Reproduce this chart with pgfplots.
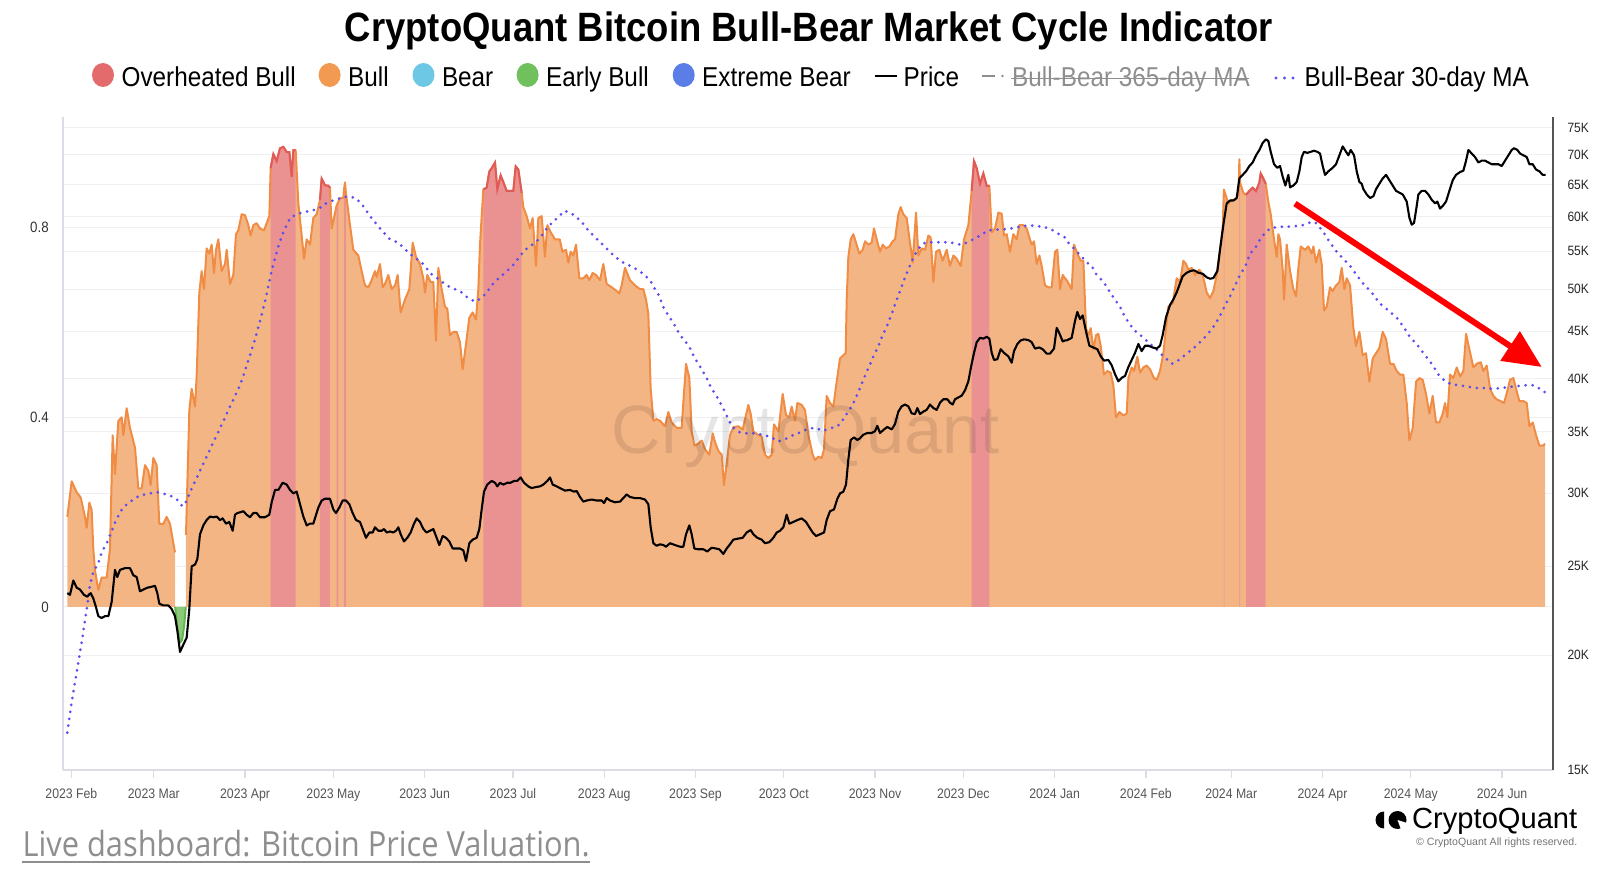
\documentclass[border=0pt]{standalone}
\usepackage{fontspec}
\setmainfont{Liberation Sans}[FakeStretch=0.89]
\newfontfamily\opensans{Open Sans}[FakeStretch=0.89]
\newfontfamily\plainsans{Liberation Sans}
\usepackage{pgfplots}
\pgfplotsset{compat=1.18}
\usepackage{pgfplotstable}
\usetikzlibrary{arrows.meta}

\definecolor{orangefill}{HTML}{F4B585}
\definecolor{orangeline}{HTML}{F08C44}
\definecolor{redfill}{HTML}{EA9292}
\definecolor{redline}{HTML}{E05A5A}
\definecolor{greenfill}{HTML}{8CC97A}
\definecolor{greenline}{HTML}{62B84E}
\definecolor{mablue}{HTML}{5B4DF2}
\definecolor{axisgray}{HTML}{DCDCE6}
\definecolor{gridgray}{HTML}{F0F0F3}
\definecolor{rightaxis}{HTML}{555555}
\definecolor{ticktext}{HTML}{555555}
\definecolor{lgred}{HTML}{E36B6B}
\definecolor{lgorange}{HTML}{F39A52}
\definecolor{lgblue}{HTML}{6DC8E5}
\definecolor{lggreen}{HTML}{71C05E}
\definecolor{lgdblue}{HTML}{5A7DE8}
\definecolor{livegray}{HTML}{8E8E8E}

% Bull-Bear indicator (x = days since 2023-02-01)
\pgfplotstableread{
d v
-1.38 0.190
0.09 0.265
1.79 0.242
3.15 0.231
4.62 0.190
5.19 0.167
6.09 0.220
6.88 0.205
7.45 0.122
8.02 0.077
9.15 0.036
10.28 0.062
11.98 0.062
13.11 0.122
14.02 0.362
14.81 0.280
15.94 0.392
17.08 0.400
17.64 0.362
18.78 0.419
19.91 0.377
21.61 0.336
22.74 0.250
23.87 0.250
25.0 0.299
26.14 0.287
26.93 0.257
27.83 0.314
28.97 0.299
29.87 0.175
31.23 0.175
32.36 0.190
33.5 0.175
35.19 0.115
35.25 0.0
36.0 -0.045
36.9 -0.075
37.6 -0.07
38.3 -0.04
38.85 0.0
38.93 0.152
40.06 0.415
40.86 0.460
41.99 0.4225
42.55 0.486
43.46 0.663
44.25 0.708
45.05 0.670
45.95 0.756
46.86 0.745
47.65 0.764
48.44 0.704
49.12 0.753
49.92 0.775
51.05 0.708
52.18 0.723
52.75 0.753
53.88 0.681
55.01 0.700
55.92 0.786
56.71 0.794
57.84 0.828
58.97 0.826
60.11 0.805
60.9 0.783
61.81 0.805
62.94 0.809
64.07 0.798
65.43 0.794
66.33 0.809
67.24 0.824
67.69 0.925
68.6 0.955
69.73 0.940
70.87 0.967
72.0 0.970
73.13 0.959
74.04 0.959
74.83 0.907
75.4 0.963
76.19 0.963
77.1 0.850
78.23 0.783
79.02 0.734
79.93 0.775
81.05 0.764
82.18 0.820
83.31 0.828
84.45 0.858
85.01 0.903
86.15 0.889
87.28 0.888
87.84 0.884
88.41 0.798
89.2 0.820
90.11 0.847
90.68 0.854
91.24 0.862
92.37 0.862
92.6 0.880
92.94 0.895
93.3 0.870
93.73 0.850
94.64 0.805
95.77 0.753
97.47 0.741
98.6 0.708
99.73 0.678
100.87 0.674
102.0 0.689
103.13 0.708
103.7 0.696
104.83 0.723
105.74 0.674
106.53 0.681
107.66 0.700
108.79 0.670
109.93 0.678
110.83 0.700
111.85 0.621
113.32 0.648
114.8 0.670
115.93 0.768
117.06 0.738
118.42 0.723
119.55 0.693
120.12 0.663
120.91 0.700
122.04 0.685
122.95 0.685
123.85 0.561
124.65 0.715
125.78 0.670
126.91 0.633
127.7 0.629
128.61 0.573
129.74 0.580
130.87 0.580
132.01 0.558
132.91 0.501
134.27 0.565
135.18 0.610
136.31 0.621
137.44 0.606
138.24 0.670
138.8 0.764
139.93 0.880
141.07 0.884
141.97 0.918
142.77 0.925
143.9 0.937
144.69 0.880
145.82 0.910
146.96 0.892
147.86 0.877
148.99 0.877
150.13 0.877
150.92 0.929
151.83 0.922
152.96 0.873
153.52 0.843
154.66 0.824
155.79 0.798
156.69 0.820
157.83 0.719
158.62 0.820
159.75 0.824
160.88 0.738
161.68 0.805
162.81 0.790
164.28 0.775
165.9 0.775
166.8 0.749
168.02 0.753
168.81 0.726
169.6 0.749
170.51 0.741
171.42 0.764
172.55 0.693
173.91 0.693
175.04 0.700
175.95 0.689
177.08 0.704
178.21 0.700
179.57 0.689
180.7 0.723
181.83 0.681
183.53 0.674
185.23 0.666
186.14 0.661
186.93 0.678
188.06 0.715
189.76 0.689
191.46 0.678
193.16 0.670
194.29 0.670
195.2 0.648
195.99 0.618
196.78 0.460
197.69 0.3925
198.82 0.396
199.95 0.3925
201.65 0.381
202.78 0.411
203.92 0.389
205.61 0.3775
207.31 0.3775
208.11 0.4525
208.79 0.5126
209.92 0.4826
210.71 0.370
211.62 0.340
212.97 0.344
214.11 0.351
215.24 0.3325
216.71 0.321
217.85 0.366
218.64 0.3475
219.77 0.329
220.9 0.321
221.69 0.257
222.6 0.302
223.73 0.3625
224.87 0.379
226.56 0.381
228.04 0.374
229.96 0.426
230.75 0.4075
231.66 0.370
233.36 0.3625
234.49 0.359
235.62 0.321
236.76 0.314
237.89 0.321
238.68 0.385
240.15 0.370
241.63 0.449
242.76 0.404
243.89 0.400
244.68 0.4225
245.82 0.3925
246.61 0.430
248.08 0.426
249.21 0.415
250.35 0.3625
251.82 0.321
252.61 0.310
253.74 0.317
254.87 0.314
255.67 0.3325
256.57 0.445
257.7 0.430
258.84 0.4225
259.97 0.475
261.1 0.524
262.23 0.531
263.03 0.535
263.37 0.648
263.93 0.738
264.73 0.775
265.63 0.786
266.54 0.768
267.67 0.745
268.8 0.753
269.6 0.771
270.73 0.764
271.86 0.768
272.65 0.798
273.56 0.775
274.69 0.749
275.6 0.764
276.73 0.756
277.86 0.760
278.99 0.771
279.79 0.775
280.92 0.828
281.71 0.843
282.62 0.828
283.75 0.820
284.88 0.768
285.79 0.726
286.92 0.8315
287.71 0.741
288.84 0.756
289.98 0.753
291.11 0.783
291.9 0.779
292.81 0.685
293.71 0.749
294.85 0.753
295.98 0.730
297.34 0.753
298.47 0.719
299.6 0.741
300.73 0.734
302.1 0.719
303.23 0.775
304.7 0.805
305.83 0.877
306.62 0.940
307.53 0.925
308.66 0.892
309.79 0.914
310.93 0.888
311.83 0.888
312.63 0.790
313.76 0.798
314.89 0.8315
316.02 0.829
316.82 0.783
317.72 0.786
318.85 0.749
319.99 0.786
321.12 0.775
322.02 0.805
323.38 0.805
324.51 0.798
325.42 0.779
326.21 0.764
327.01 0.771
327.91 0.723
328.82 0.741
329.61 0.719
330.74 0.678
331.88 0.674
333.01 0.674
334.14 0.749
334.93 0.753
335.84 0.670
336.75 0.700
337.54 0.693
338.1 0.689
339.8 0.670
340.6 0.764
341.73 0.745
342.86 0.730
343.77 0.730
344.67 0.588
345.47 0.573
346.26 0.588
347.16 0.543
348.07 0.573
348.86 0.576
349.66 0.550
350.79 0.490
351.92 0.4975
353.05 0.494
353.96 0.4675
354.86 0.400
355.98 0.411
357.36 0.404
358.49 0.4075
359.05 0.4826
360.19 0.505
360.98 0.4975
362.11 0.5276
363.02 0.494
364.15 0.505
365.28 0.509
366.41 0.501
367.77 0.4826
368.68 0.479
369.81 0.4975
370.94 0.535
372.64 0.633
374.11 0.640
375.47 0.693
376.61 0.685
377.74 0.730
378.65 0.723
379.44 0.711
380.57 0.715
381.7 0.700
383.17 0.711
384.31 0.700
385.67 0.663
386.8 0.651
387.93 0.666
389.06 0.700
390.2 0.753
391.1 0.798
391.5 0.880
391.7 0.876
391.89 0.873
393.03 0.850
394.16 0.858
395.29 0.858
396.5 0.870
396.76 0.944
396.99 0.895
398.12 0.873
399.03 0.869
400.16 0.877
401.29 0.884
402.43 0.877
403.56 0.895
404.01 0.914
404.92 0.903
405.71 0.892
406.61 0.854
407.41 0.828
408.54 0.775
409.45 0.738
410.01 0.786
410.58 0.775
411.48 0.711
411.94 0.648
412.84 0.764
413.98 0.708
415.11 0.670
416.01 0.655
416.81 0.715
417.6 0.760
419.08 0.753
420.21 0.760
421.34 0.745
421.9 0.760
422.81 0.726
423.94 0.753
424.73 0.723
425.53 0.625
426.43 0.633
427.56 0.674
428.47 0.666
429.6 0.678
430.74 0.685
431.53 0.715
432.43 0.670
433.23 0.693
434.36 0.678
435.49 0.588
436.4 0.550
437.53 0.580
438.66 0.531
439.79 0.535
440.93 0.475
442.06 0.524
443.19 0.535
444.32 0.546
445.46 0.580
446.59 0.565
447.95 0.5126
449.08 0.5126
450.21 0.4975
451.34 0.490
452.48 0.490
453.61 0.430
454.51 0.351
455.65 0.3775
456.78 0.475
457.91 0.4826
459.04 0.479
460.18 0.449
461.31 0.4075
462.44 0.445
463.57 0.389
464.71 0.389
465.84 0.4075
466.63 0.430
467.42 0.400
468.33 0.490
469.46 0.4826
470.6 0.505
471.73 0.486
472.86 0.4975
473.77 0.576
474.9 0.543
476.26 0.505
477.39 0.5126
478.75 0.516
479.65 0.4975
480.79 0.509
481.92 0.460
483.05 0.445
484.18 0.4375
485.54 0.434
486.67 0.430
487.81 0.456
488.71 0.479
489.85 0.4826
490.75 0.460
491.88 0.434
493.24 0.434
494.38 0.430
495.28 0.381
496.41 0.389
497.54 0.3625
498.68 0.340
499.81 0.340
500.6 0.344
}\indic

% Bull-Bear 30-day MA
\pgfplotstableread{
d v
-1.4 -0.265
0.0 -0.204
1.74 -0.14
3.48 -0.075
5.2 -0.005
6.32 0.047
7.45 0.0735
9.15 0.092
10.28 0.115
11.98 0.134
13.68 0.160
15.38 0.186
17.08 0.205
18.78 0.216
21.04 0.227
23.3 0.235
26.14 0.239
28.97 0.242
31.23 0.239
33.5 0.235
35.76 0.227
37.8 0.212
39.16 0.224
40.86 0.25
42.55 0.272
44.82 0.302
47.08 0.332
49.35 0.362
51.61 0.392
53.88 0.4225
55.58 0.445
57.28 0.4675
58.97 0.4975
60.67 0.531
62.37 0.565
64.07 0.6026
65.77 0.644
67.47 0.693
68.6 0.723
70.3 0.760
72.0 0.790
74.26 0.82
75.96 0.826
78.2 0.8315
81.06 0.835
83.88 0.839
86.15 0.850
88.41 0.856
91.24 0.8615
93.5 0.865
96.34 0.863
98.6 0.850
101.43 0.824
104.83 0.798
108.23 0.775
111.06 0.768
115.02 0.744
117.29 0.734
119.55 0.723
121.82 0.704
125.21 0.689
127.48 0.678
130.31 0.670
132.57 0.663
134.84 0.651
137.1 0.644
139.37 0.651
141.07 0.663
142.77 0.678
144.46 0.689
146.5 0.700
148.43 0.711
150.35 0.723
152.16 0.738
154.09 0.753
155.79 0.760
158.05 0.771
159.75 0.783
161.45 0.798
163.15 0.809
165.41 0.822
167.4 0.835
169.4 0.8315
171.6 0.822
173.7 0.809
175.6 0.794
177.3 0.783
179.3 0.771
181.3 0.759
183.2 0.747
185.2 0.736
187.5 0.726
189.8 0.719
192.3 0.711
194.3 0.702
196.6 0.689
197.9 0.674
199.4 0.659
201.3 0.629
202.8 0.614
204.5 0.599
205.8 0.584
207.3 0.569
209.0 0.556
210.4 0.5426
211.8 0.524
213.0 0.5126
214.4 0.4976
215.8 0.4826
216.9 0.4676
218.3 0.4525
219.8 0.4375
221.1 0.4225
222.4 0.406
223.5 0.391
224.9 0.3775
226.9 0.3685
229.4 0.366
232.2 0.366
235.1 0.3625
237.5 0.3587
240.2 0.349
242.8 0.355
245.2 0.3625
247.7 0.3685
250.3 0.376
252.6 0.3775
255.4 0.3715
258.3 0.3775
261.1 0.385
263.4 0.4075
265.4 0.426
267.3 0.4525
269.0 0.479
270.7 0.503
272.4 0.5276
274.1 0.550
275.6 0.5726
277.2 0.595
278.7 0.6176
280.1 0.644
281.5 0.666
282.8 0.689
284.3 0.7115
285.8 0.734
287.1 0.749
288.8 0.764
290.5 0.769
293.4 0.769
296.2 0.769
299.0 0.768
301.9 0.764
304.1 0.768
306.4 0.775
308.9 0.784
311.5 0.794
314.3 0.7955
316.6 0.796
319.4 0.798
322.0 0.8015
324.5 0.804
327.0 0.804
329.6 0.8015
332.4 0.798
335.3 0.7865
337.5 0.779
338.7 0.768
340.9 0.753
343.2 0.739
344.9 0.7265
346.6 0.719
348.3 0.700
350.6 0.685
352.8 0.664
354.5 0.648
356.2 0.633
357.9 0.6116
359.6 0.595
361.7 0.580
363.9 0.569
366.2 0.556
368.7 0.5426
370.9 0.529
373.8 0.5126
376.0 0.520
378.3 0.531
380.6 0.5426
382.3 0.5516
384.3 0.5636
386.6 0.580
388.5 0.595
390.0 0.6116
391.9 0.636
393.6 0.655
395.3 0.678
397.0 0.700
398.7 0.717
400.4 0.745
402.1 0.7565
403.8 0.775
405.5 0.789
407.2 0.798
410.0 0.8015
412.8 0.8015
415.7 0.803
418.5 0.805
421.3 0.812
423.0 0.809
425.3 0.790
427.6 0.768
429.8 0.749
432.1 0.734
434.4 0.719
436.6 0.700
438.9 0.681
441.7 0.663
444.5 0.640
447.4 0.625
450.2 0.610
452.5 0.591
454.7 0.569
457.0 0.554
459.8 0.531
462.1 0.5126
464.4 0.490
466.6 0.4765
468.9 0.469
471.7 0.4675
474.6 0.464
477.4 0.4615
480.2 0.4615
483.0 0.460
485.9 0.4615
488.7 0.464
491.5 0.466
494.4 0.4675
496.6 0.4675
498.9 0.460
500.6 0.4525
}\mavg

% BTC price (thousand USD)
\pgfplotstableread{
d p
-1.38 23.36
-0.48 23.26
0.66 24.11
1.79 23.68
2.92 23.57
4.28 23.26
5.41 23.15
6.55 23.36
7.45 23.05
8.36 22.55
9.15 22.05
10.28 21.95
11.41 22.05
12.55 22.05
13.68 22.85
14.81 24.76
15.6 24.32
16.51 24.76
18.21 24.87
19.91 24.87
21.04 24.43
22.17 24.32
23.3 23.47
24.44 23.57
25.8 23.68
26.93 23.72
28.4 23.79
29.19 23.36
29.87 22.75
31.23 22.65
32.93 22.65
34.06 22.45
35.19 22.05
35.99 21.27
36.89 20.16
38.02 20.53
39.16 20.90
40.06 22.45
40.86 24.98
41.99 25.09
42.78 25.43
43.69 27.07
44.82 27.68
45.95 28.05
47.08 28.30
48.22 28.25
49.35 28.30
50.48 28.05
51.39 28.17
52.52 27.80
53.65 27.92
54.79 27.31
55.58 28.43
56.37 28.55
57.28 28.60
58.41 28.68
59.54 28.43
60.67 28.25
61.81 28.55
62.94 28.55
64.07 28.25
65.77 28.25
67.24 28.43
68.04 29.33
69.17 30.25
70.3 30.25
71.77 30.80
73.13 30.66
74.26 30.25
75.4 29.99
76.53 30.12
77.66 29.19
78.79 28.30
79.93 27.68
81.06 27.80
82.18 27.80
83.88 28.94
85.01 29.46
86.15 29.59
87.84 29.59
88.98 28.81
89.88 28.55
91.02 28.94
92.15 29.46
93.28 29.46
94.41 29.19
95.54 28.55
96.68 28.05
98.04 27.92
99.17 27.31
100.07 26.83
101.21 27.19
102.34 27.19
103.13 27.55
104.26 27.31
105.4 27.31
106.19 27.43
107.1 27.19
108.23 27.26
109.36 27.19
110.27 27.31
111.06 27.55
111.85 27.07
112.98 26.59
114.12 26.83
115.25 27.19
116.38 27.80
117.29 28.17
118.42 27.92
119.55 27.43
120.68 27.19
121.82 27.31
122.95 27.43
124.08 26.83
124.99 26.35
126.12 26.95
127.25 26.83
128.38 26.59
129.52 26.12
130.88 26.12
132.01 26.12
133.14 26.00
134.05 25.32
135.18 26.47
136.31 26.71
137.67 26.83
138.58 27.43
139.37 28.81
140.16 30.12
141.29 30.66
142.77 30.94
143.9 30.80
144.69 30.52
145.6 30.80
146.73 30.66
148.09 30.80
149.22 30.80
150.35 30.94
151.48 30.94
152.62 31.21
153.75 30.80
155.22 30.52
156.35 30.39
157.83 30.47
159.19 30.52
160.32 30.66
161.68 30.94
162.58 31.21
163.49 30.66
164.85 30.52
165.98 30.39
167.68 30.20
169.38 30.25
170.74 30.12
171.64 30.17
172.77 29.72
173.91 29.38
175.04 29.46
176.74 29.53
178.44 29.46
180.14 29.46
180.93 29.27
181.83 29.64
182.97 29.46
184.66 29.33
186.36 29.38
187.5 29.64
188.63 29.91
189.76 29.72
191.46 29.64
193.16 29.64
194.86 29.53
195.99 29.19
196.78 27.55
197.69 26.47
198.82 26.30
199.95 26.40
201.08 26.35
201.99 26.24
203.35 26.47
205.05 26.35
206.75 26.24
207.88 26.24
208.79 27.07
209.92 27.68
210.71 27.07
211.62 26.12
212.97 26.07
214.67 26.07
216.03 25.93
217.5 26.17
218.98 26.12
220.11 26.07
221.47 25.77
222.6 26.12
223.73 26.40
224.87 26.71
226.56 26.78
228.04 26.83
229.39 27.19
230.75 27.36
231.66 27.07
233.02 26.83
234.49 26.71
235.62 26.47
237.1 26.54
238.45 26.83
239.59 27.19
240.72 27.31
241.85 27.55
242.98 28.43
243.89 27.80
245.25 27.92
246.61 28.05
248.08 28.17
249.55 27.92
250.68 27.55
251.82 27.19
252.95 26.95
254.31 27.07
255.67 27.19
256.57 28.05
257.7 28.68
259.06 28.81
260.2 29.59
261.1 29.99
262.23 30.12
263.14 30.66
263.93 32.64
264.73 34.28
265.86 34.50
266.99 34.28
267.9 34.43
269.03 34.74
270.39 34.89
271.86 34.89
272.99 35.05
273.78 35.52
274.69 34.89
276.05 35.20
277.18 35.42
278.65 35.20
279.79 35.68
280.92 36.81
282.05 37.30
283.18 37.47
284.32 37.30
285.45 36.65
286.58 36.58
287.37 37.14
288.28 36.58
289.41 36.81
290.54 36.97
291.68 37.47
292.81 37.14
293.94 36.97
295.07 37.64
296.21 37.97
297.56 37.97
298.47 37.64
299.38 37.47
300.17 37.97
301.3 38.14
302.43 38.31
303.57 38.83
304.7 39.71
305.6 41.15
306.62 42.64
307.53 43.80
308.66 44.27
309.79 44.19
310.93 44.39
311.83 44.19
312.63 42.64
313.42 41.89
314.55 41.97
315.68 43.03
316.82 42.64
318.29 42.27
319.42 41.60
320.21 42.83
321.35 43.60
322.48 43.99
323.61 44.11
325.08 44.03
326.21 43.80
327.35 43.10
328.82 43.22
329.95 43.03
331.31 42.56
332.44 42.56
333.8 43.10
334.71 45.39
335.61 44.79
336.75 43.88
337.54 43.99
338.1 43.99
339.8 44.27
340.94 46.21
341.73 47.25
342.63 46.41
343.54 46.83
344.67 44.99
345.81 43.41
347.16 43.22
348.52 43.03
349.66 42.27
350.79 41.82
352.26 41.89
353.39 41.34
354.52 40.42
355.66 39.71
356.79 40.06
357.92 40.24
359.05 41.15
360.19 41.89
361.32 42.64
362.45 43.60
363.58 42.83
364.72 43.41
365.85 43.41
367.32 43.22
368.68 43.10
369.81 43.41
370.72 44.59
371.85 46.62
373.21 48.09
374.34 48.74
375.47 49.62
376.38 50.52
377.51 51.66
378.87 52.12
380.23 52.35
381.36 52.44
382.83 52.12
384.31 51.98
385.67 51.52
386.8 51.34
387.93 51.43
389.29 52.35
390.2 55.24
391.33 58.78
392.46 62.01
393.59 62.45
394.73 62.45
395.86 62.85
396.76 66.01
397.89 66.60
399.03 67.19
400.16 68.09
401.29 68.70
402.43 69.94
403.56 70.88
404.69 72.16
405.82 72.80
406.61 72.48
407.41 70.56
408.54 68.40
409.67 67.79
410.58 68.09
411.48 66.30
412.39 64.84
413.41 66.60
413.97 64.55
415.11 64.84
416.24 65.42
417.15 67.19
417.94 69.63
418.73 70.56
419.86 70.37
421.0 70.56
422.13 70.75
423.26 70.56
424.17 70.25
425.07 68.09
425.87 66.60
427.0 67.19
428.47 67.79
429.6 68.40
430.74 69.94
431.87 71.52
433.0 70.56
433.79 69.94
434.59 70.88
435.72 69.94
436.62 67.19
437.53 65.42
438.32 65.13
438.89 64.26
440.02 63.41
441.15 62.85
442.29 63.13
443.19 64.26
444.32 65.13
445.46 66.01
446.59 66.60
447.72 65.71
448.85 64.84
449.98 63.98
451.12 63.69
452.25 63.41
453.61 62.29
454.51 59.84
455.31 58.78
456.1 59.05
456.78 60.92
457.57 63.41
458.71 63.98
459.84 63.98
460.97 63.41
462.1 62.57
463.24 62.01
464.03 62.29
464.93 61.19
466.07 61.74
466.97 62.29
468.1 63.98
469.24 65.71
470.37 66.60
471.73 67.07
472.86 67.31
473.77 69.01
474.56 70.88
475.69 70.25
476.82 69.63
477.96 68.70
479.09 69.01
480.22 69.01
481.35 68.70
482.49 68.40
483.62 68.40
484.75 68.40
485.88 68.09
487.02 69.01
488.15 69.94
489.28 70.88
490.07 71.20
491.21 70.88
492.11 70.25
493.24 69.94
494.38 69.63
495.28 68.40
496.41 68.40
497.54 67.49
498.68 67.19
499.81 66.60
500.8 66.60
}\price

\pgfplotsset{
  cqgeom/.style={at={(63.3pt,102pt)}, anchor=south west, scale only axis,
    width=1489.7pt, height=653pt, xmin=-2.75, xmax=503.3},
  redseg/.style={draw=none, fill=redfill, restrict x to domain=#1},
  redlineseg/.style={redline, line width=2pt, restrict x to domain=#1},
}

\begin{document}
\begin{tikzpicture}[x=1pt,y=1pt]
\path[use as bounding box] (0,0) rectangle (1600,872);

% title
\node[anchor=base, inner sep=0pt] at (809,830)
  {\resizebox{928pt}{!}{\bfseries CryptoQuant Bitcoin Bull-Bear Market Cycle Indicator}};

% legend
\begin{scope}[font=\fontsize{27.3}{30}\selectfont]
\fill[lgred] (103,797) ellipse (11 and 12);
\node[anchor=base west, inner sep=0pt] at (121.4,785.5) {Overheated Bull};
\fill[lgorange] (329.6,797) ellipse (11 and 12);
\node[anchor=base west, inner sep=0pt] at (348,785.5) {Bull};
\fill[lgblue] (423.5,797) ellipse (11 and 12);
\node[anchor=base west, inner sep=0pt] at (441.8,785.5) {Bear};
\fill[lggreen] (527.6,797) ellipse (11 and 12);
\node[anchor=base west, inner sep=0pt] at (546,785.5) {Early Bull};
\fill[lgdblue] (683.7,797) ellipse (11 and 12);
\node[anchor=base west, inner sep=0pt] at (702,785.5) {Extreme Bear};
\draw[black, line width=2.4pt] (875,796) -- (897,796);
\node[anchor=base west, inner sep=0pt] at (903.5,785.5) {Price};
\draw[livegray, line width=2pt] (982,796) -- (995,796);
\fill[livegray] (1002.5,796) circle (1.3);
\node[anchor=base west, inner sep=0pt, text=livegray] at (1012,785.5) {Bull-Bear 365-day MA};
\draw[livegray, line width=1.8pt] (1011,793.5) -- (1249,793.5);
\fill[mablue] (1276,794) circle (1.6);
\fill[mablue] (1284.5,794) circle (1.6);
\fill[mablue] (1293,794) circle (1.6);
\node[anchor=base west, inner sep=0pt] at (1304.5,785.5) {Bull-Bear 30-day MA};
\end{scope}

% price gridlines (behind everything)
\begin{axis}[cqgeom, ymode=log, ymin=15, ymax=77,
  axis line style={draw=none}, xtick=\empty,
  ytick={20,25,30,35,40,45,50,55,60,65,70,75}, yticklabels={},
  ytick style={draw=none}, ymajorgrids, grid style={draw=gridgray, line width=1pt}]
\end{axis}

% indicator axis
\begin{axis}[cqgeom, ymin=-0.3437, ymax=1.033,
  axis x line*=bottom, axis y line*=left,
  x axis line style={-, draw=axisgray, line width=1.8pt},
  y axis line style={-, draw=axisgray, line width=2.2pt},
  xtick={0,28,59,89,120,150,181,212,242,273,303,334,365,394,425,455,486},
  xticklabels={2023 Feb,2023 Mar,2023 Apr,2023 May,2023 Jun,2023 Jul,2023 Aug,2023 Sep,2023 Oct,2023 Nov,2023 Dec,2024 Jan,2024 Feb,2024 Mar,2024 Apr,2024 May,2024 Jun},
  xticklabel style={font=\fontsize{13.8}{15}\selectfont, text=ticktext, yshift=-7pt},
  xtick style={draw=axisgray, line width=1.3pt},
  tick align=outside, major tick length=8pt,
  ytick={0,0.4,0.8}, yticklabels={0,0.4,0.8},
  ytick style={draw=none},
  yticklabel style={font=\fontsize{15}{17}\selectfont, text=black!80, xshift=-3pt},
  ymajorgrids, grid style={draw=gridgray, line width=1pt}]
\addplot[draw=none, fill=orangefill] table[x=d,y=v]{\indic} \closedcycle;
\addplot[redseg=67.5:76.6] table[x=d,y=v]{\indic} \closedcycle;
\addplot[redseg=84.3:87.9] table[x=d,y=v]{\indic} \closedcycle;
\addplot[redseg=90.0:90.8] table[x=d,y=v]{\indic} \closedcycle;
\addplot[redseg=92.5:93.4] table[x=d,y=v]{\indic} \closedcycle;
\addplot[redseg=139.8:153.0] table[x=d,y=v]{\indic} \closedcycle;
\addplot[redseg=305.7:311.9] table[x=d,y=v]{\indic} \closedcycle;
\addplot[redseg=391.4:391.8] table[x=d,y=v]{\indic} \closedcycle;
\addplot[redseg=396.7:397.05] table[x=d,y=v]{\indic} \closedcycle;
\addplot[redseg=398.9:405.8] table[x=d,y=v]{\indic} \closedcycle;
\addplot[draw=none, fill=greenfill, restrict x to domain=35.22:38.88] table[x=d,y=v]{\indic} \closedcycle;
\addplot[orangeline, line width=2pt, line join=round, restrict x to domain=-5:35.22] table[x=d,y=v]{\indic};
\addplot[orangeline, line width=2pt, line join=round, restrict x to domain=38.88:510] table[x=d,y=v]{\indic};
\addplot[greenline, line width=2pt, restrict x to domain=35.22:38.88] table[x=d,y=v]{\indic};
\addplot[redlineseg=67.5:76.6] table[x=d,y=v]{\indic};
\addplot[redlineseg=84.3:87.9] table[x=d,y=v]{\indic};
\addplot[redlineseg=139.8:153.0] table[x=d,y=v]{\indic};
\addplot[redlineseg=305.7:311.9] table[x=d,y=v]{\indic};
\addplot[redlineseg=398.9:405.8] table[x=d,y=v]{\indic};
\addplot[mablue, line width=3pt, line cap=round, dash pattern=on 0pt off 7pt] table[x=d,y=v]{\mavg};
\end{axis}

% watermark
\node[opacity=0.10, text=black] at (806,435) {\resizebox{388pt}{!}{\plainsans CryptoQuant}};

% price axis
\begin{axis}[cqgeom, ymode=log, ymin=15, ymax=77,
  axis x line=none, axis y line*=right,
  y axis line style={-, draw=rightaxis, line width=2.4pt},
  ytick={15,20,25,30,35,40,45,50,55,60,65,70,75},
  yticklabels={15K,20K,25K,30K,35K,40K,45K,50K,55K,60K,65K,70K,75K},
  ytick style={draw=none}, major tick length=8pt, tick align=outside,
  yticklabel style={font=\fontsize{13.5}{15}\selectfont, text=black!85, xshift=3pt}]
\addplot[black, line width=2.1pt, line join=round] table[x=d,y=p]{\price};
\end{axis}

% annotation arrow
\draw[red, line width=6pt, -{Triangle[length=38pt, width=34pt]}] (1295,668.4) -- (1541.7,505);

% footer
\node[anchor=base west, inner sep=0pt, text=livegray] at (22.4,15)
  {\resizebox{567pt}{!}{\opensans Live dashboard: Bitcoin Price Valuation.}};
\draw[livegray, line width=2pt] (22.4,10) -- (590,10);

\fill[black] (1384,60.5) arc[start angle=90, end angle=270, radius=8.5] -- cycle;
\fill[black] (1397.5,52) circle (9);
\fill[white] (1397.5,52) -- (1407,49) -- (1407,42.5) -- (1401,42.5) -- cycle;
\node[anchor=base west, inner sep=0pt] at (1412,43.4) {\resizebox{165pt}{!}{\plainsans CryptoQuant}};
\node[anchor=base west, inner sep=0pt, text=black!55] at (1416,26)
  {\resizebox{161pt}{!}{\plainsans \textcopyright{} CryptoQuant All rights reserved.}};
\end{tikzpicture}
\end{document}
